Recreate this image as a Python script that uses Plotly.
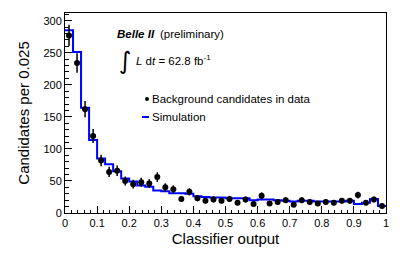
import numpy as np
import plotly.graph_objects as go

bin_width = 0.025
bin_edges = [round(i * bin_width, 3) for i in range(41)]
bin_centers = [round((i + 0.5) * bin_width, 4) for i in range(40)]

data_counts = [277, 234, 162, 120, 82, 64, 66, 50, 45, 48,
               46, 56, 40, 37, 22, 33, 23, 19, 21, 19,
               22, 16, 21, 14, 27, 15, 17, 20, 13, 20,
               17, 15, 17, 16, 19, 19, 28, 16, 21, 11]

sim_counts = [285, 251, 164, 114, 85, 76, 65, 54, 49, 43,
              41, 35, 34, 31, 31, 30, 26, 25, 24, 24,
              23, 23, 23, 20, 21, 21, 20, 19, 18, 19,
              19, 18, 18, 18, 18, 19, 14, 16, 22, 11]

x_ticks = [0, 0.1, 0.2, 0.3, 0.4, 0.5, 0.6, 0.7, 0.8, 0.9, 1]
x_tick_labels = ["0", "0.1", "0.2", "0.3", "0.4", "0.5", "0.6", "0.7", "0.8", "0.9", "1"]
y_ticks = [0, 50, 100, 150, 200, 250, 300]

FONT = "Liberation Sans, Arial, Helvetica, sans-serif"

# page body has an 8px default margin; work in window pixels and offset
OFF = 8
WIN_W, WIN_H = 407, 254
W, H = WIN_W - OFF, WIN_H - OFF
# plot area in window pixels
L, R, T, B = 65, 386, 13, 213


def px(x):
    return (x - L) / (R - L)


def py(y):
    return (B - y) / (B - T)


fig = go.Figure()

# simulation histogram as step line
sim_x = bin_edges
sim_y = sim_counts + [sim_counts[-1]]
fig.add_trace(go.Scatter(
    x=sim_x, y=sim_y, mode="lines", line_shape="hv",
    line=dict(color="#0000ff", width=2), showlegend=False, hoverinfo="skip"))

# data points with sqrt(N) errors
errs = [float(np.sqrt(v)) for v in data_counts]
fig.add_trace(go.Scatter(
    x=bin_centers, y=data_counts, mode="markers",
    marker=dict(color="black", size=6),
    error_y=dict(type="data", array=errs, visible=True, color="black",
                 thickness=1.5, width=0),
    showlegend=False))

axis_common = dict(
    showline=True, linecolor="black", linewidth=1, mirror=True,
    ticks="inside", tickcolor="black", ticklen=7, tickwidth=1,
    showgrid=False, zeroline=False, automargin=False,
    tickfont=dict(family=FONT, size=11, color="black"),
)

fig.update_xaxes(
    range=[0, 1], tickvals=x_ticks, ticktext=x_tick_labels,
    minor=dict(ticks="inside", ticklen=3.5, tickcolor="black", dtick=0.02, tick0=0),
    title=dict(text="Classifier output", font=dict(family=FONT, size=15, color="black"),
               standoff=5),
    **axis_common)
fig.update_yaxes(
    range=[0, 312], tickvals=y_ticks,
    minor=dict(ticks="inside", ticklen=3.5, tickcolor="black", dtick=10, tick0=0),
    title=dict(text="Candidates per 0.025", font=dict(family=FONT, size=15, color="black"),
               standoff=10),
    **axis_common)

ann_font = dict(family=FONT, size=11.5, color="black")
annotations = [
    dict(x=px(115), y=py(34), text="<b><i>Belle II</i></b>", xanchor="left", yanchor="middle",
         font=ann_font),
    dict(x=px(158), y=py(34), text="(preliminary)", xanchor="left", yanchor="middle",
         font=ann_font),
    dict(x=px(125), y=py(61), text="∫", xanchor="center", yanchor="middle",
         font=dict(family="DejaVu Sans", size=24, color="black")),
    dict(x=px(134), y=py(60), text="<i>L</i> d<i>t</i> = 62.8 fb<sup>-1</sup>", xanchor="left",
         yanchor="middle", font=ann_font),
    dict(x=px(150), y=py(99), text="Background candidates in data", xanchor="left",
         yanchor="middle", font=ann_font),
    dict(x=px(150), y=py(117), text="Simulation", xanchor="left", yanchor="middle",
         font=ann_font),
]
for a in annotations:
    a.update(xref="paper", yref="paper", showarrow=False)

shapes = [
    dict(type="circle", xref="paper", yref="paper",
         x0=px(145), x1=px(149), y0=py(97), y1=py(101),
         fillcolor="black", line=dict(color="black", width=0)),
    dict(type="line", xref="paper", yref="paper",
         x0=px(142), x1=px(149), y0=py(117), y1=py(117),
         line=dict(color="#0000ff", width=2)),
]

fig.update_layout(
    width=W, height=H,
    margin=dict(l=L - OFF, r=WIN_W - R, t=T - OFF, b=WIN_H - B, pad=0),
    paper_bgcolor="white", plot_bgcolor="white",
    annotations=annotations, shapes=shapes,
    font=dict(family=FONT, color="black"),
)

fig.write_html("out.html")
